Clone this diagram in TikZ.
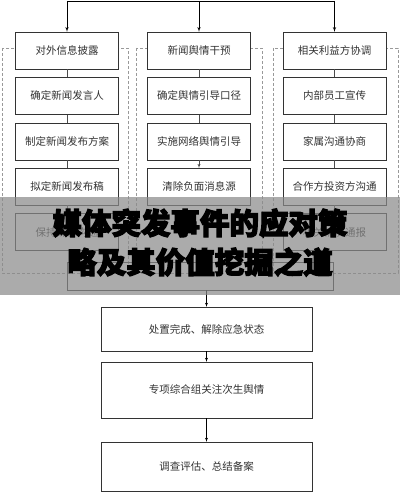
\documentclass[tikz,border=0pt]{standalone}
\usepackage{fontspec}
\setmainfont{Noto Sans CJK SC}
\newfontfamily\titlefont[FakeBold=4]{Noto Sans CJK SC}
\usetikzlibrary{arrows,positioning}

\begin{document}
\begin{tikzpicture}[x=1pt, y=-1pt, node distance=8pt, >=latex', every text node part/.style={align=center},
    box/.style={draw=black!80, fill=white, rectangle, minimum width=103pt, minimum height=37pt, inner sep=0pt, text=black!80, font=\fontsize{10.5}{12}\selectfont},
    group/.style={draw=black!40, dash pattern=on 3pt off 2pt}]
    \useasboundingbox (0,0) rectangle (400,492);

    % dashed groups
    \draw [group] (2,48) rectangle (128,273);
    \draw [group] (136,48) rectangle (262,273);
    \draw [group] (273,48) rectangle (398,273);

    \node [box] (l1) at (67,50.5) {对外信息披露};
    \node [box, below=of l1] (l2) {确定新闻发言人};
    \node [box, below=of l2] (l3) {制定新闻发布方案};
    \node [box, below=of l3] (l4) {拟定新闻发布稿};
    \node [box, below=of l4] (l5) {保持媒体沟通};

    \node [box] (m1) at (199,50.5) {新闻舆情干预};
    \node [box, below=of m1] (m2) {确定舆情引导口径};
    \node [box, below=of m2] (m3) {实施网络舆情引导};
    \node [box, below=of m3] (m4) {清除负面消息源};

    \node [box] (r1) at (334.5,50.5) {相关利益方协调};
    \node [box, below=of r1] (r2) {内部员工宣传};
    \node [box, below=of r2] (r3) {家属沟通协商};
    \node [box, below=of r3] (r4) {合作方投资方沟通};
    \node [box, below=of r4] (r5) {相关情况通报};

    \node [box, fill=none, minimum width=266pt, minimum height=28pt] (merge) at (200,276) {};

    \node [box, minimum width=211pt, minimum height=44pt] (a) at (206.5,329) {处置完成、解除应急状态};
    \node [box, minimum width=211pt, minimum height=56pt] (b) at (206.5,390) {专项综合组关注次生舆情};
    \node [box, minimum width=211pt, minimum height=49pt] (c) at (206.5,466.5) {调查评估、总结备案};

    \coordinate (tl) at (67,1);
    \coordinate (tr) at (334.5,1);
    \draw [semithick] (tl) -- (tr);
    \draw [semithick, ->] (tl) -- (l1);
    \draw [semithick, ->] (tl -| m1) -- (m1);
    \draw [semithick, ->] (tr) -- (r1);

    \draw [black!70] (l1) -- (l2);
    \draw [black!70] (l2) -- (l3);
    \draw [black!70] (l3) -- (l4);
    \draw [black!70, ->] (l4) -- (l5);
    \draw [black!70] (m1) -- (m2);
    \draw [black!70] (m2) -- (m3);
    \draw [black!70, ->] (m3) -- (m4);
    \draw [black!70] (r1) -- (r2);
    \draw [black!70] (r2) -- (r3);
    \draw [black!70] (r3) -- (r4);
    \draw [black!70, ->] (r4) -- (r5);

    \draw [->] (merge.south -| a.north) -- (a);
    \draw [->] (a) -- (b);
    \draw [->] (b) -- (c);

    % title banner
    \fill [black!46, fill opacity=0.72] (0,197) rectangle (400,295);
    \node [font=\titlefont\bfseries\fontsize{29.5}{32}\selectfont] (t1) at (200,223) {媒体突发事件的应对策};
    \node [font=\titlefont\bfseries\fontsize{29.5}{32}\selectfont] (t2) at (200,262) {略及其价值挖掘之道};
\end{tikzpicture}
\end{document}
